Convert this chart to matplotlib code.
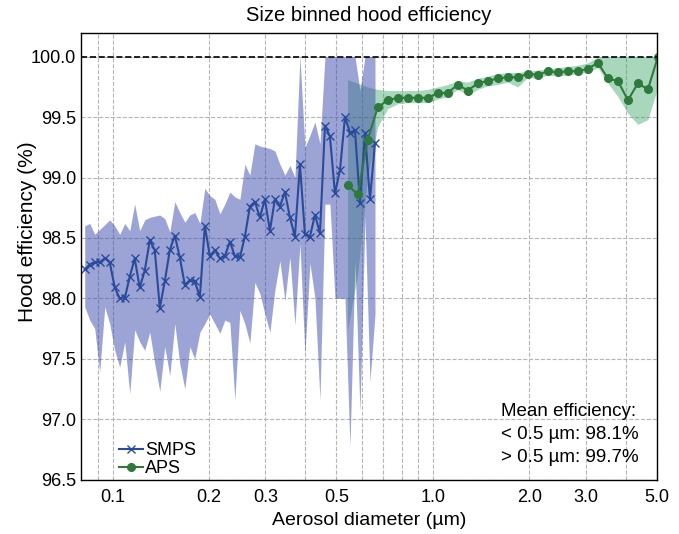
import matplotlib
matplotlib.use("Agg")
import matplotlib.pyplot as plt
from matplotlib.ticker import FixedLocator, NullFormatter

plt.rcParams['font.family'] = ['Liberation Sans', 'DejaVu Sans']

# SMPS size bins (um) and efficiency (%), with lower/upper band
smps_d = [0.0819, 0.0849, 0.0880, 0.0912, 0.0946, 0.0980, 0.1016, 0.1053, 0.1092, 0.1132,
          0.1173, 0.1216, 0.1261, 0.1307, 0.1355, 0.1405, 0.1456, 0.1510, 0.1565, 0.1622,
          0.1682, 0.1743, 0.1807, 0.1874, 0.1942, 0.2013, 0.2087, 0.2164, 0.2243, 0.2325,
          0.2410, 0.2499, 0.2590, 0.2685, 0.2783, 0.2885, 0.2991, 0.3101, 0.3214, 0.3332,
          0.3454, 0.3581, 0.3712, 0.3848, 0.3989, 0.4135, 0.4287, 0.4444, 0.4607, 0.4775,
          0.4950, 0.5132, 0.5320, 0.5515, 0.5717, 0.5926, 0.6143, 0.6368, 0.6602]
smps_eff = [98.24, 98.28, 98.30, 98.30, 98.33, 98.30, 98.09, 98.00, 98.00, 98.18,
            98.33, 98.09, 98.23, 98.48, 98.40, 97.92, 98.14, 98.40, 98.52, 98.34,
            98.11, 98.15, 98.14, 98.01, 98.60, 98.35, 98.40, 98.33, 98.35, 98.47,
            98.35, 98.34, 98.51, 98.76, 98.80, 98.67, 98.82, 98.56, 98.82, 98.76,
            98.88, 98.67, 98.51, 99.11, 98.53, 98.51, 98.69, 98.54, 99.43, 99.34,
            98.87, 99.06, 99.50, 99.37, 99.39, 98.79, 99.37, 98.82, 99.29]
smps_hi = [98.60, 98.62, 98.53, 98.57, 98.61, 98.65, 98.60, 98.53, 98.62, 98.56,
           98.78, 98.56, 98.65, 98.67, 98.68, 98.69, 98.66, 98.55, 98.80, 98.71,
           98.63, 98.69, 98.71, 98.62, 98.91, 98.85, 98.82, 98.70, 98.78, 98.88,
           98.84, 98.82, 99.11, 99.02, 99.28, 99.26, 99.25, 99.24, 99.22, 99.11,
           99.02, 99.10, 99.00, 100.0, 99.25, 99.35, 99.46, 99.28, 100.0, 100.0,
           100.0, 100.0, 100.0, 100.0, 100.0, 99.72, 100.0, 100.0, 100.0]
smps_lo = [97.93, 97.82, 97.75, 97.39, 97.93, 97.79, 97.57, 97.43, 97.64, 97.21,
           97.74, 97.64, 97.57, 97.72, 97.46, 97.23, 97.60, 97.36, 97.79, 97.46,
           97.25, 97.60, 97.50, 97.72, 97.79, 97.87, 97.79, 97.71, 97.82, 97.80,
           97.16, 97.90, 97.79, 97.63, 98.13, 98.04, 97.87, 97.72, 98.07, 98.31,
           97.98, 98.34, 97.78, 98.45, 97.54, 98.29, 98.00, 97.16, 98.78, 98.78,
           98.00, 98.00, 98.00, 96.77, 98.31, 97.06, 98.67, 97.31, 97.87]

# APS size bins (um) and efficiency (%)
aps_d = [0.542, 0.583, 0.626, 0.673, 0.723, 0.777, 0.835, 0.898, 0.965, 1.037,
         1.114, 1.197, 1.286, 1.382, 1.486, 1.596, 1.715, 1.843, 1.981, 2.129,
         2.288, 2.458, 2.642, 2.839, 3.051, 3.278, 3.523, 3.786, 4.068, 4.371,
         4.698, 5.048]
aps_eff = [98.94, 98.86, 99.31, 99.58, 99.64, 99.66, 99.66, 99.66, 99.66, 99.70,
           99.70, 99.77, 99.72, 99.78, 99.80, 99.82, 99.83, 99.83, 99.86, 99.85,
           99.88, 99.87, 99.88, 99.88, 99.90, 99.95, 99.82, 99.80, 99.64, 99.78,
           99.73, 100.0]
aps_hi = [99.81, 99.78, 99.75, 99.73, 99.72, 99.72, 99.72, 99.72, 99.73, 99.75,
          99.77, 99.80, 99.79, 99.82, 99.84, 99.86, 99.87, 99.87, 99.88, 99.89,
          99.90, 99.91, 99.92, 99.93, 99.95, 100.0, 100.0, 100.0, 100.0, 100.0,
          100.0, 100.0]
aps_lo = [97.74, 98.20, 99.00, 99.42, 99.57, 99.61, 99.62, 99.62, 99.62, 99.65,
          99.67, 99.73, 99.68, 99.73, 99.76, 99.77, 99.79, 99.75, 99.83, 99.82,
          99.85, 99.84, 99.85, 99.86, 99.87, 99.91, 99.78, 99.67, 99.53, 99.44,
          99.48, 99.75]

tick_vals = [0.1, 0.2, 0.3, 0.5, 1.0, 2.0, 3.0, 5.0]
tick_labels = ["0.1", "0.2", "0.3", "0.5", "1.0", "2.0", "3.0", "5.0"]
minor_vals = [0.09, 0.4, 0.6, 0.7, 0.8, 0.9, 4.0]

smps_line = "#2a4a9c"
aps_line = "#2e7a3c"

fig = plt.figure(figsize=(6.79, 5.34), dpi=100)
ax = fig.add_axes([0.120, 0.102, 0.847, 0.837])

# green band underneath so the overlap reads blue-ish
ax.fill_between(aps_d, aps_lo, aps_hi, color="#34a060", alpha=0.42, linewidth=0)
ax.fill_between(smps_d, smps_lo, smps_hi, color="#3a4aad", alpha=0.5, linewidth=0)
ax.plot(smps_d, smps_eff, "-", marker="x", color=smps_line, lw=1.5, ms=5.5, mew=1.0, label="SMPS")
ax.plot(aps_d, aps_eff, "-", marker="o", color=aps_line, lw=1.5, ms=5.5, label="APS")
ax.axhline(100, color="black", ls="--", lw=1.2)

ax.set_xscale("log")
ax.set_xlim(0.08, 5.0)
ax.set_ylim(96.5, 100.2)
ax.xaxis.set_major_locator(FixedLocator(tick_vals))
ax.set_xticklabels(tick_labels)
ax.xaxis.set_minor_locator(FixedLocator(minor_vals))
ax.xaxis.set_minor_formatter(NullFormatter())
ax.set_yticks([96.5, 97.0, 97.5, 98.0, 98.5, 99.0, 99.5, 100.0])
ax.set_yticklabels(["96.5", "97.0", "97.5", "98.0", "98.5", "99.0", "99.5", "100.0"])
ax.tick_params(which="both", length=0, labelsize=13)
ax.tick_params(axis="x", pad=7)
ax.tick_params(axis="y", pad=4)
ax.grid(True, which="both", color="#b5b5b5", ls="--", lw=0.8)
ax.set_axisbelow(True)
for s in ax.spines.values():
    s.set_linewidth(1.0)

ax.set_title("Size binned hood efficiency", fontsize=14.5, pad=8)
ax.set_xlabel("Aerosol diameter (\u00b5m)", fontsize=14)
ax.set_ylabel("Hood efficiency (%)", fontsize=15)
ax.yaxis.set_label_coords(-0.077, 0.554)

ax.legend(loc="lower left", frameon=False, fontsize=13, handlelength=1.3,
          handletextpad=0.15, labelspacing=0.05, borderaxespad=0.1,
          bbox_to_anchor=(0.05, -0.015))
ax.text(0.73, 0.03, "Mean efficiency:\n< 0.5 \u00b5m: 98.1%\n> 0.5 \u00b5m: 99.7%",
        transform=ax.transAxes, fontsize=13.5, ha="left", va="bottom", linespacing=1.45)

fig.savefig("out.png", dpi=100)
